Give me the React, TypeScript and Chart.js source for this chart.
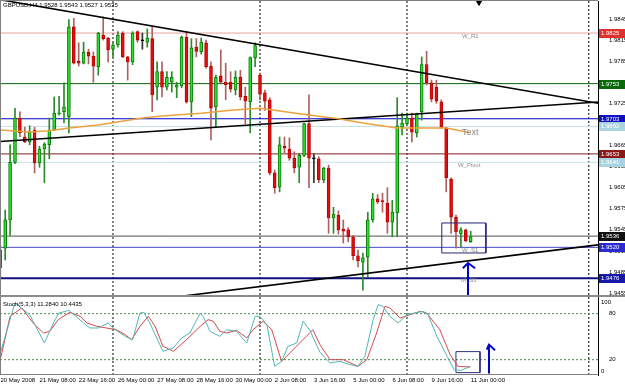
import React, { useEffect, useRef } from "react";
import { Chart, registerables } from "chart.js";

Chart.register(...registerables);

// ---------- DATA ----------
// GBPUSD H4 candles, bar index 1..97 (bar 0 = 20 May 2008 00:00)
const opens = [
  1.9491, 1.9519, 1.9559, 1.9641, 1.9704, 1.9677, 1.9670, 1.9687, 1.9640, 1.9660,
  1.9666, 1.9687, 1.9710, 1.9713, 1.9706, 1.9834, 1.9785, 1.9782, 1.9798, 1.9792,
  1.9777, 1.9822, 1.9818, 1.9802, 1.9808, 1.9825, 1.9791, 1.9784, 1.9827, 1.9814,
  1.9812, 1.9817, 1.9748, 1.9770, 1.9748, 1.9755, 1.9748, 1.9750, 1.9819, 1.9727,
  1.9805, 1.9798, 1.9811, 1.9778, 1.9720, 1.9764, 1.9755, 1.9755, 1.9744, 1.9762,
  1.9735, 1.9727, 1.9790, 1.9765, 1.9740, 1.9730, 1.9626, 1.9606, 1.9664, 1.9660,
  1.9647, 1.9634, 1.9651, 1.9696, 1.9646, 1.9646, 1.9616, 1.9633, 1.9562, 1.9566,
  1.9546, 1.9545, 1.9535, 1.9508, 1.9499, 1.9506, 1.9559, 1.9589, 1.9586, 1.9583,
  1.9556, 1.9569, 1.9691, 1.9696, 1.9704, 1.9683, 1.9713, 1.9780, 1.9754, 1.9748,
  1.9727, 1.9690, 1.9617, 1.9563, 1.9539, 1.9545, 1.9528,
];
const highs = [
  1.9523, 1.9573, 1.9666, 1.9718, 1.9713, 1.9691, 1.9693, 1.9691, 1.9664, 1.9669,
  1.9704, 1.9734, 1.9735, 1.9754, 1.9844, 1.9846, 1.9811, 1.9812, 1.9802, 1.9798,
  1.9826, 1.9848, 1.9819, 1.9811, 1.9827, 1.9827, 1.9792, 1.9827, 1.9828, 1.9825,
  1.9831, 1.9834, 1.9784, 1.9784, 1.9770, 1.9770, 1.9755, 1.9821, 1.9827, 1.9817,
  1.9817, 1.9818, 1.9815, 1.9784, 1.9765, 1.9801, 1.9782, 1.9770, 1.9771, 1.9772,
  1.9748, 1.9791, 1.9811, 1.9768, 1.9744, 1.9733, 1.9630, 1.9677, 1.9677, 1.9676,
  1.9656, 1.9654, 1.9697, 1.9737, 1.9653, 1.9649, 1.9634, 1.9637, 1.9577, 1.9572,
  1.9559, 1.9548, 1.9537, 1.9516, 1.9512, 1.9570, 1.9597, 1.9595, 1.9597, 1.9605,
  1.9587, 1.9733, 1.9711, 1.9711, 1.9711, 1.9711, 1.9791, 1.9799, 1.9758, 1.9758,
  1.9730, 1.9691, 1.9619, 1.9566, 1.9548, 1.9546, 1.9543,
];
const lows = [
  1.9476, 1.9502, 1.9537, 1.9639, 1.9677, 1.9669, 1.9666, 1.9626, 1.9634, 1.9612,
  1.9646, 1.9686, 1.9708, 1.9697, 1.9683, 1.9781, 1.9778, 1.9781, 1.9781, 1.9755,
  1.9765, 1.9815, 1.9784, 1.9791, 1.9805, 1.9790, 1.9758, 1.9780, 1.9812, 1.9802,
  1.9805, 1.9713, 1.9730, 1.9734, 1.9744, 1.9741, 1.9733, 1.9747, 1.9725, 1.9706,
  1.9791, 1.9795, 1.9775, 1.9673, 1.9691, 1.9754, 1.9730, 1.9741, 1.9737, 1.9730,
  1.9696, 1.9683, 1.9777, 1.9730, 1.9715, 1.9623, 1.9597, 1.9599, 1.9654, 1.9644,
  1.9626, 1.9612, 1.9649, 1.9605, 1.9612, 1.9612, 1.9612, 1.9540, 1.9540, 1.9539,
  1.9526, 1.9528, 1.9502, 1.9492, 1.9459, 1.9478, 1.9556, 1.9582, 1.9570, 1.9540,
  1.9535, 1.9535, 1.9680, 1.9694, 1.9670, 1.9677, 1.9701, 1.9751, 1.9727, 1.9725,
  1.9690, 1.9599, 1.9540, 1.9519, 1.9521, 1.9528, 1.9527,
];
const closes = [
  1.9516, 1.9559, 1.9641, 1.9704, 1.9683, 1.9670, 1.9684, 1.9640, 1.9660, 1.9667,
  1.9687, 1.9711, 1.9711, 1.9720, 1.9834, 1.9782, 1.9782, 1.9798, 1.9792, 1.9778,
  1.9825, 1.9817, 1.9801, 1.9808, 1.9822, 1.9791, 1.9784, 1.9825, 1.9815, 1.9814,
  1.9818, 1.9737, 1.9770, 1.9748, 1.9762, 1.9762, 1.9751, 1.9819, 1.9727, 1.9804,
  1.9799, 1.9812, 1.9777, 1.9718, 1.9762, 1.9755, 1.9751, 1.9745, 1.9762, 1.9734,
  1.9728, 1.9790, 1.9807, 1.9738, 1.9728, 1.9626, 1.9605, 1.9666, 1.9661, 1.9647,
  1.9633, 1.9651, 1.9696, 1.9647, 1.9646, 1.9616, 1.9633, 1.9562, 1.9567, 1.9545,
  1.9543, 1.9535, 1.9508, 1.9501, 1.9505, 1.9559, 1.9589, 1.9585, 1.9585, 1.9556,
  1.9570, 1.9693, 1.9697, 1.9704, 1.9684, 1.9710, 1.9780, 1.9754, 1.9731, 1.9728,
  1.9691, 1.9619, 1.9563, 1.9542, 1.9545, 1.9529, 1.9535,
];

// Moving average (orange), read at sampled bars
const maIdx = [1, 7, 11, 15, 21, 30, 34, 42, 48, 54, 57, 62, 70, 76, 82, 87, 92, 97];
const maVal = [1.9687, 1.9684, 1.9686, 1.9690, 1.9694, 1.9704, 1.9707, 1.9711, 1.9715, 1.9718,
  1.9715, 1.9710, 1.9703, 1.9696, 1.9690, 1.9690, 1.9690, 1.9683];

// Stochastic(5,3,3) main line, read at its turning points
const stochMainIdx = [1, 4, 7, 10, 12, 13, 15, 18, 19.3, 21, 23, 24, 26.5, 28, 29.5, 30.3, 31.5, 34.2, 36.3, 38,
  39.7, 41.8, 42.4, 43.8, 45.8, 47.2, 49.2, 51.3, 53, 54, 55.4, 57, 58.4, 59.7, 61.5, 62.8, 64.2, 66.2, 68.3, 70.3,
  72.4, 74, 75.4, 77.1, 78.1, 79.1, 80.5, 82.2, 84, 85.6, 87.3, 88.3, 90.1, 92.2, 93.6, 95, 97];
const stochMainVal = [28.7, 93.9, 78.7, 41.7, 70, 80.9, 84.3, 67.8, 61.3, 61.3, 67.8, 61.3, 50.4, 46, 80.9, 81.7, 67.8, 30.9, 35.2, 48.3,
  54.8, 80.9, 76.5, 57, 50.4, 59.1, 57, 41.7, 76.5, 76.5, 65.7, 11.3, 17.8, 37.4, 41.7, 70, 58, 30, 15.7, 17.8,
  13.5, 11.3, 24.3, 72.2, 91.7, 89.6, 76.5, 67.8, 78.7, 80.9, 83, 78.7, 50.4, 24.3, 7, 6, 11.28];
// Stochastic signal line
const stochSigIdx = [1, 3, 5.4, 7.7, 9.8, 11.1, 12.8, 15.2, 17.3, 18.7, 20.7, 22.7, 24.7, 26.5, 27.8, 29.5, 31.2, 32.6, 34.2, 36.3,
  39, 41.8, 43.4, 44.5, 45.8, 47.2, 49.2, 51.3, 52.6, 54.6, 56.4, 58.4, 60.1, 62.2, 64.8, 66.2, 68.3, 71, 74, 75.8,
  77.8, 79.5, 80.5, 82.6, 84.6, 86.7, 88, 90.7, 92.8, 94.4, 96.9];
const stochSigVal = [20, 76.5, 87.4, 67.8, 54.8, 57, 72.2, 81.7, 76.5, 67.8, 63.5, 61.3, 59.1, 52.6, 46, 63.5, 76.5, 63.5, 37.4, 30.9,
  46, 63.5, 72.2, 70, 57, 54.8, 58.3, 48.3, 59.1, 70, 59.1, 17.8, 28.7, 42.5, 59.1, 40, 20, 20, 11.3, 20,
  54.8, 89.6, 87.4, 74.3, 78.7, 83, 80.9, 59.1, 26.5, 11.3, 10.44];

// Time axis labels (bar index of each label)
const timeTickIdx = [0, 8, 16, 24, 32, 40, 48, 56, 64, 72, 80, 88, 96];
const timeLabels = ["20 May 2008", "21 May 08:00", "22 May 16:00", "26 May 00:00", "27 May 08:00", "28 May 16:00",
  "30 May 00:00", "2 Jun 08:00", "3 Jun 16:00", "5 Jun 00:00", "6 Jun 08:00", "9 Jun 16:00", "11 Jun 00:00"];

// Price axis ticks
const priceTicks = [1.9845, 1.9815, 1.9785, 1.9755, 1.9725, 1.9695, 1.9665, 1.9635, 1.9605, 1.9575, 1.9545, 1.9515, 1.9485, 1.9455];
const stochTicks = [0, 20, 80, 100];
const stochLevels = [80, 20];

// Horizontal price levels
const levelPrices = [1.9825, 1.9753, 1.9703, 1.9692, 1.9653, 1.9641, 1.9536, 1.9520, 1.9476];
const levelNames = ["W_R1", "", "", "Text", "", "W_Pivot", "", "W_S1", "M_S1"];

// Trend lines: [startIdx, startPrice, endIdx, endPrice]
const trendLines = [
  [0.94, 1.98725, 122.98, 1.9725],
  [0.94, 1.96707, 122.98, 1.97269],
  [36.65, 1.94493, 122.98, 1.95236],
];

// Weekly separators (bar index)
const separatorIdx = [24, 54, 84, 121.1];

// Header texts
const headerText = "GBPUSD,H4 1.9528 1.9543 1.9527 1.9535";
const stochText = "Stoch(5,3,3) 11.2840 10.4435";

// ---------- LAYOUT / STYLE ----------
const X_MIN = 0.94;
const X_MAX = 122.98;
const P_MIN = 1.94522;
const P_MAX = 1.98706;
const S_MIN = 0;
const S_MAX = 104.35;

const levelLineColors = ["#e8a0a0", "#0a640a", "#0000c0", "#c4e2e8", "#802020", "#c4e2e8", "#505050", "#4848c8", "#101080"];
const levelLineWidths = [1, 1, 1, 1, 1, 1, 1, 1, 2];
const levelLabelBg = ["#e03030", "#0a6a0a", "#1010c0", "#a8d4e0", "#8a1818", "#a8d4e0", "#101010", "#2a2ad0", "#1818a8"];

const FONT = "'Liberation Sans', Arial, sans-serif";

export default function App() {
  const ref = useRef<HTMLCanvasElement | null>(null);

  useEffect(() => {
    document.body.style.margin = "0";
    const canvas = ref.current;
    if (!canvas) return;

    const idx = opens.map((_, i) => i + 1);
    const dir = opens.map((o, i) => (closes[i] > o ? 1 : closes[i] < o ? -1 : 0));
    const bodyBg = dir.map((d) => (d > 0 ? "#2ee02e" : d < 0 ? "#e01010" : "#000000"));
    const bodyBorder = dir.map((d) => (d > 0 ? "#0a7a0a" : d < 0 ? "#c00000" : "#000000"));
    const wickColor = dir.map((d) => (d > 0 ? "#2a8a2a" : d < 0 ? "#b06060" : "#303030"));

    const lineBase = {
      type: "line" as const,
      pointRadius: 0,
      pointHoverRadius: 0,
      borderWidth: 1,
      fill: false,
      tension: 0,
      spanGaps: false,
    };

    const datasets: any[] = [];

    // candle bodies
    datasets.push({
      type: "bar",
      data: idx.map((x, i) => ({ x, y: [opens[i], closes[i]] })),
      backgroundColor: bodyBg,
      borderColor: bodyBorder,
      borderWidth: 1,
      borderSkipped: false,
      barThickness: 3,
      minBarLength: 1,
      grouped: false,
      xAxisID: "x",
      yAxisID: "y",
      order: 1,
    });
    // wicks
    datasets.push({
      type: "bar",
      data: idx.map((x, i) => ({ x, y: [lows[i], highs[i]] })),
      backgroundColor: wickColor,
      borderWidth: 0,
      barThickness: 1,
      grouped: false,
      xAxisID: "x",
      yAxisID: "y",
      order: 2,
    });

    // horizontal levels
    levelPrices.forEach((p, k) => {
      datasets.push({
        ...lineBase,
        data: [{ x: X_MIN, y: p }, { x: X_MAX, y: p }],
        borderColor: levelLineColors[k],
        borderWidth: levelLineWidths[k],
        xAxisID: "x",
        yAxisID: "y",
        order: 10,
      });
    });

    // separators
    datasets.push({
      ...lineBase,
      data: separatorIdx.flatMap((s) => [{ x: s, y: P_MIN }, { x: s, y: P_MAX }, { x: s, y: null }]),
      borderColor: "#000000",
      borderDash: [2, 2],
      xAxisID: "x",
      yAxisID: "y",
      order: 11,
    });
    datasets.push({
      ...lineBase,
      data: separatorIdx.flatMap((s) => [{ x: s, y: S_MIN }, { x: s, y: S_MAX }, { x: s, y: null }]),
      borderColor: "#000000",
      borderDash: [2, 2],
      xAxisID: "x",
      yAxisID: "y2",
      order: 11,
    });

    // moving average
    datasets.push({
      ...lineBase,
      data: maIdx.map((x, i) => ({ x, y: maVal[i] })),
      borderColor: "#eba23c",
      borderWidth: 1.5,
      xAxisID: "x",
      yAxisID: "y",
      order: 0,
    });

    // trend lines
    trendLines.forEach((t) => {
      datasets.push({
        ...lineBase,
        data: [{ x: t[0], y: t[1] }, { x: t[2], y: t[3] }],
        borderColor: "#000000",
        borderWidth: 1.6,
        xAxisID: "x",
        yAxisID: "y",
        order: 0,
      });
    });

    // price rectangle and arrow
    datasets.push({
      ...lineBase,
      data: [
        { x: 91.1, y: 1.95547 }, { x: 100.1, y: 1.95547 }, { x: 100.1, y: 1.9512 },
        { x: 91.1, y: 1.9512 }, { x: 91.1, y: 1.95547 },
      ],
      borderColor: "#25257a",
      xAxisID: "x",
      yAxisID: "y",
      order: 0,
    });
    datasets.push({
      ...lineBase,
      data: [
        { x: 96.45, y: 1.9450 }, { x: 96.45, y: 1.94974 }, { x: 96.45, y: null },
        { x: 95.4, y: 1.94902 }, { x: 96.45, y: 1.94978 }, { x: 97.9, y: 1.94902 },
      ],
      borderColor: "#0000cc",
      borderWidth: 2,
      xAxisID: "x",
      yAxisID: "y",
      order: 0,
    });
    // chart shift marker
    datasets.push({
      type: "line",
      showLine: false,
      data: [{ x: 98.7, y: 1.98685 }],
      pointStyle: "triangle",
      rotation: 180,
      pointRadius: 3,
      pointHoverRadius: 0,
      pointBackgroundColor: "#000000",
      pointBorderColor: "#000000",
      clip: false,
      xAxisID: "x",
      yAxisID: "y",
      order: 0,
    });

    // stochastic
    stochLevels.forEach((v) => {
      datasets.push({
        ...lineBase,
        data: [{ x: X_MIN, y: v }, { x: X_MAX, y: v }],
        borderColor: "#4a8a4a",
        borderDash: [2, 2],
        xAxisID: "x",
        yAxisID: "y2",
        order: 10,
      });
    });
    datasets.push({
      ...lineBase,
      data: stochMainIdx.map((x, i) => ({ x, y: stochMainVal[i] })),
      borderColor: "#52b6b6",
      xAxisID: "x",
      yAxisID: "y2",
      order: 0,
    });
    datasets.push({
      ...lineBase,
      data: stochSigIdx.map((x, i) => ({ x, y: stochSigVal[i] })),
      borderColor: "#d84848",
      xAxisID: "x",
      yAxisID: "y2",
      order: 0,
    });
    datasets.push({
      ...lineBase,
      data: [
        { x: 93.99, y: 30.5 }, { x: 98.9, y: 30.5 }, { x: 98.9, y: 3.1 },
        { x: 93.99, y: 3.1 }, { x: 93.99, y: 30.5 },
      ],
      borderColor: "#303080",
      xAxisID: "x",
      yAxisID: "y2",
      order: 0,
    });
    datasets.push({
      ...lineBase,
      data: [
        { x: 100.6, y: 3 }, { x: 100.73, y: 39.6 }, { x: 100.73, y: null },
        { x: 100.27, y: 33 }, { x: 100.73, y: 39.6 }, { x: 101.96, y: 32.2 },
      ],
      borderColor: "#0000cc",
      borderWidth: 2,
      xAxisID: "x",
      yAxisID: "y2",
      order: 0,
    });

    const overlay = {
      id: "mtOverlay",
      afterDraw(chart: any) {
        const ctx = chart.ctx;
        const xs = chart.scales.x;
        const ys = chart.scales.y;
        const y2 = chart.scales.y2;
        ctx.save();
        // panel frames
        ctx.strokeStyle = "#808080";
        ctx.lineWidth = 1;
        ctx.beginPath();
        ctx.moveTo(xs.left, ys.top - 0.5);
        ctx.lineTo(xs.right, ys.top - 0.5);
        ctx.moveTo(xs.left + 0.5, ys.top);
        ctx.lineTo(xs.left + 0.5, y2.bottom);
        ctx.moveTo(xs.left, y2.bottom - 0.5);
        ctx.lineTo(xs.right, y2.bottom - 0.5);
        ctx.stroke();
        // panel separator
        ctx.fillStyle = "#8c8c8c";
        ctx.fillRect(xs.left, ys.bottom, chart.width - xs.left, 2);

        // level labels on the price axis
        ctx.font = `6px ${FONT}`;
        ctx.textBaseline = "middle";
        ctx.textAlign = "left";
        levelPrices.forEach((p, k) => {
          const py = ys.getPixelForValue(p);
          ctx.fillStyle = levelLabelBg[k];
          ctx.fillRect(xs.right + 1, Math.round(py) - 4, chart.width - xs.right - 1, 9);
          ctx.fillStyle = "#ffffff";
          ctx.fillText(p.toFixed(4), xs.right + 3, Math.round(py) + 0.5);
        });

        // stochastic extreme labels kept inside the panel
        ctx.fillStyle = "#000000";
        ctx.fillText(String(stochTicks[3]), xs.right + 3, y2.getPixelForValue(stochTicks[3]) + 4);
        ctx.fillText(String(stochTicks[0]), xs.right + 3, y2.getPixelForValue(stochTicks[0]) - 4);

        // time labels
        timeTickIdx.forEach((t, k) => {
          ctx.fillText(timeLabels[k], xs.getPixelForValue(t) + 5, xs.top + 5);
        });

        // object names
        ctx.fillStyle = "#8a8a8a";
        const nameIdx = [95.2, 0, 0, 95.2, 0, 94.4, 0, 95.2, 95.0];
        const namePrice = [1.98208, 0, 0, 1.96838, 0, 1.96372, 0, 1.95163, 1.94736];
        levelNames.forEach((n, k) => {
          if (!n) return;
          ctx.font = n === "Text" ? `9px ${FONT}` : `6px ${FONT}`;
          ctx.fillText(n, xs.getPixelForValue(nameIdx[k]), ys.getPixelForValue(namePrice[k]));
        });

        // header texts
        ctx.fillStyle = "#000000";
        ctx.font = `6px ${FONT}`;
        ctx.fillText(headerText, xs.left + 3, ys.top + 4);
        ctx.fillText(stochText, xs.left + 3, y2.top + 9);
        ctx.restore();
      },
    };

    const chart = new Chart(canvas, {
      type: "bar",
      data: { datasets },
      plugins: [overlay],
      options: {
        responsive: false,
        animation: false,
        devicePixelRatio: 1,
        events: [],
        layout: { autoPadding: false, padding: { top: 1, left: 0, right: 0, bottom: 0 } },
        plugins: { legend: { display: false }, tooltip: { enabled: false } },
        scales: {
          x: {
            type: "linear",
            min: X_MIN,
            max: X_MAX,
            offset: false,
            position: "bottom",
            grid: { display: false, offset: false },
            border: { display: false },
            ticks: { display: false },
            afterFit: (s: any) => {
              s.height = 9;
              s.paddingLeft = 0;
              s.paddingRight = 0;
            },
          },
          y: {
            type: "linear",
            position: "right",
            stack: "mt",
            stackWeight: 294,
            min: P_MIN,
            max: P_MAX,
            beginAtZero: false,
            grid: { display: false },
            border: { display: true, color: "#000000", width: 1 },
            ticks: {
              padding: 3,
              color: "#000000",
              font: { family: FONT, size: 6 },
              callback: (v: any) => Number(v).toFixed(4),
            },
            afterBuildTicks: (s: any) => {
              s.ticks = priceTicks.map((v) => ({ value: v }));
            },
            afterFit: (s: any) => {
              s.width = 27;
              s.paddingTop = 0;
              s.paddingBottom = 0;
            },
          },
          y2: {
            type: "linear",
            position: "right",
            stack: "mt",
            stackWeight: 80,
            min: S_MIN,
            max: S_MAX,
            beginAtZero: false,
            grid: { display: false },
            border: { display: true, color: "#000000", width: 1 },
            ticks: {
              padding: 3,
              color: "#000000",
              font: { family: FONT, size: 6 },
              callback: (v: any) => (Number(v) === 0 || Number(v) === 100 ? "" : String(v)),
            },
            afterBuildTicks: (s: any) => {
              s.ticks = stochTicks.map((v) => ({ value: v }));
            },
            afterFit: (s: any) => {
              s.width = 27;
              s.paddingTop = 0;
              s.paddingBottom = 0;
            },
          },
        },
      } as any,
    });

    return () => chart.destroy();
  }, []);

  return (
    <div style={{ width: 625, height: 384, background: "#ffffff" }}>
      <canvas ref={ref} width={625} height={384} style={{ display: "block" }} />
    </div>
  );
}
